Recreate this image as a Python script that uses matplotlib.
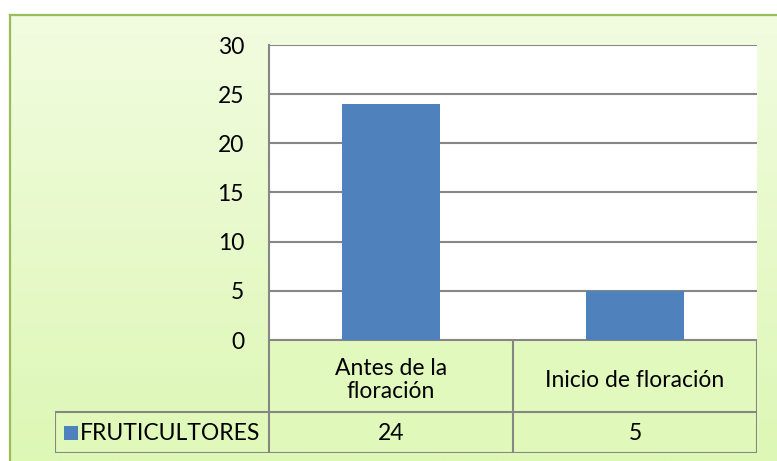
import numpy as np
import matplotlib
matplotlib.use("Agg")
import matplotlib.pyplot as plt
from matplotlib.patches import Rectangle
from matplotlib.lines import Line2D

plt.rcParams["font.family"] = ["Lato", "DejaVu Sans"]

categorias = ["Antes de la\nfloración", "Inicio de floración"]
serie = "FRUTICULTORES"
valores = [24, 5]
yticks = [0, 5, 10, 15, 20, 25, 30]

W, H = 777, 461
AZUL = "#4F81BD"
GRIS = "#868686"
FS = 16.5


def fx(x):
    return x / W


def fy(y):
    return 1 - y / H


fig = plt.figure(figsize=(W / 100, H / 100), dpi=100)
fig.patch.set_facecolor("white")

# fondo del gráfico: degradado verde claro con borde
bg = fig.add_axes([fx(10), 0, 1 - fx(10), fy(15)])
grad = np.linspace(0, 1, 256)[:, None]
top = np.array([0xF2, 0xFC, 0xE0]) / 255
bot = np.array([0xDD, 0xF7, 0xB5]) / 255
img = top + (bot - top) * grad[..., None]
img = np.repeat(img, 2, axis=1)
bg.imshow(img, aspect="auto", extent=[0, 1, 0, 1])
bg.set_xlim(0, 1); bg.set_ylim(0, 1)
bg.axis("off")
fig.add_artist(Line2D([fx(10), fx(10)], [0, fy(15)], color="#9BBB59", lw=1.6))
fig.add_artist(Line2D([fx(10), 1], [fy(15), fy(15)], color="#9BBB59", lw=1.6))

# área de trazado
L, R, T, B = 269, 757, 45, 340
ax = fig.add_axes([fx(L), fy(B), fx(R) - fx(L), fy(T) - fy(B)])
ax.set_facecolor("white")
x = np.arange(len(valores))
ax.bar(x, valores, width=0.4, color=AZUL, zorder=3)
ax.set_xlim(-0.5, len(valores) - 0.5)
ax.set_ylim(0, 30)
ax.set_yticks(yticks)
ax.set_yticklabels([str(t) for t in yticks], fontsize=FS)
ax.set_xticks([])
ax.tick_params(axis="y", length=0, pad=18)
ax.yaxis.grid(True, color=GRIS, lw=1.5)
ax.set_axisbelow(True)
for s in ("top", "right", "bottom"):
    ax.spines[s].set_visible(False)
ax.spines["left"].set_color(GRIS)
ax.spines["left"].set_linewidth(1.5)

# tabla de datos bajo el eje
TL, TB, RY = 55, 453, 412
cw = (R - L) / len(valores)
tab = fig.add_axes([fx(TL), fy(TB), fx(R) - fx(TL), fy(B) - fy(TB)])
tab.set_xlim(TL, R)
tab.set_ylim(TB, B)
tab.axis("off")
tab.add_patch(Rectangle((L, B), R - L, RY - B, facecolor="#E2F9BE", edgecolor="none"))
tab.add_patch(Rectangle((TL, RY), R - TL, TB - RY, facecolor="#E0F8BA", edgecolor="none"))
lk = dict(color=GRIS, lw=1.5, solid_capstyle="projecting")
tab.plot([L, R], [B, B], **lk)
tab.plot([TL, R], [RY, RY], **lk)
tab.plot([TL, R], [TB, TB], **lk)
tab.plot([TL, TL], [RY, TB], **lk)
for i in range(len(valores) + 1):
    tab.plot([L + i * cw] * 2, [B, TB], **lk)
for i, (c, v) in enumerate(zip(categorias, valores)):
    cx = L + (i + 0.5) * cw
    tab.text(cx, (B + RY) / 2 + 4, c, ha="center", va="center", fontsize=FS,
             linespacing=1.15)
    tab.text(cx, (RY + TB) / 2 + 1, str(v), ha="center", va="center", fontsize=FS)
tab.add_patch(Rectangle((64, 426), 14, 14, facecolor=AZUL, edgecolor="none"))
tab.text(80, (RY + TB) / 2 + 1, serie, ha="left", va="center", fontsize=FS)

fig.savefig("out.png", dpi=100)
